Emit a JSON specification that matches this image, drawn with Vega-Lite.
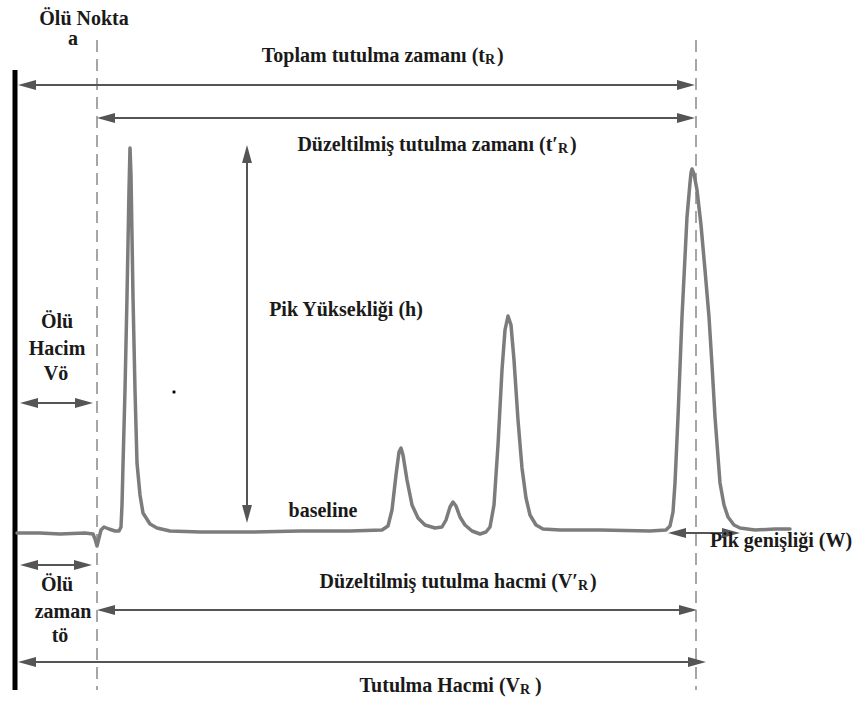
{
  "$schema": "https://vega.github.io/schema/vega-lite/v6.json",
  "width": 860,
  "height": 703,
  "padding": 0,
  "autosize": {"type": "fit", "contains": "padding"},
  "background": "white",
  "config": {"view": {"stroke": null}},
  "datasets": {
    "signal": [
      {"t": 17, "v": 533}, {"t": 40, "v": 533}, {"t": 60, "v": 534}, {"t": 85, "v": 533}, {"t": 93, "v": 534},
      {"t": 95, "v": 539}, {"t": 97, "v": 546}, {"t": 99, "v": 538}, {"t": 101, "v": 530}, {"t": 104, "v": 527},
      {"t": 109, "v": 529}, {"t": 115, "v": 531}, {"t": 119, "v": 531}, {"t": 121, "v": 527}, {"t": 122, "v": 505},
      {"t": 123, "v": 465}, {"t": 125, "v": 390}, {"t": 127, "v": 297}, {"t": 129, "v": 190}, {"t": 130, "v": 148},
      {"t": 131, "v": 175}, {"t": 133, "v": 297}, {"t": 135, "v": 390}, {"t": 137, "v": 463}, {"t": 140, "v": 495},
      {"t": 143, "v": 513}, {"t": 150, "v": 524}, {"t": 157, "v": 528}, {"t": 170, "v": 531}, {"t": 200, "v": 532},
      {"t": 250, "v": 532}, {"t": 300, "v": 531}, {"t": 350, "v": 531}, {"t": 382, "v": 530}, {"t": 388, "v": 526},
      {"t": 392, "v": 510}, {"t": 396, "v": 475}, {"t": 399, "v": 452}, {"t": 401, "v": 448}, {"t": 403, "v": 455},
      {"t": 407, "v": 480}, {"t": 412, "v": 505}, {"t": 418, "v": 518}, {"t": 425, "v": 525}, {"t": 435, "v": 528},
      {"t": 442, "v": 527}, {"t": 446, "v": 520}, {"t": 450, "v": 507}, {"t": 453, "v": 502}, {"t": 456, "v": 506},
      {"t": 460, "v": 517}, {"t": 465, "v": 525}, {"t": 472, "v": 531}, {"t": 480, "v": 534}, {"t": 486, "v": 532},
      {"t": 490, "v": 527}, {"t": 494, "v": 505}, {"t": 498, "v": 445}, {"t": 502, "v": 370}, {"t": 505, "v": 330},
      {"t": 508, "v": 316}, {"t": 511, "v": 325}, {"t": 514, "v": 360}, {"t": 518, "v": 420}, {"t": 522, "v": 468},
      {"t": 526, "v": 498}, {"t": 530, "v": 515}, {"t": 536, "v": 525}, {"t": 543, "v": 529}, {"t": 560, "v": 530},
      {"t": 600, "v": 530}, {"t": 650, "v": 531}, {"t": 666, "v": 530}, {"t": 670, "v": 526}, {"t": 673, "v": 512},
      {"t": 675, "v": 483}, {"t": 678, "v": 417}, {"t": 682, "v": 317}, {"t": 687, "v": 217}, {"t": 690, "v": 183},
      {"t": 691, "v": 173}, {"t": 692, "v": 169}, {"t": 694, "v": 174}, {"t": 697, "v": 190}, {"t": 701, "v": 225},
      {"t": 705, "v": 270}, {"t": 709, "v": 317}, {"t": 712, "v": 365}, {"t": 715, "v": 417},
      {"t": 720, "v": 483}, {"t": 724, "v": 505}, {"t": 728, "v": 517}, {"t": 734, "v": 525}, {"t": 740, "v": 528},
      {"t": 755, "v": 530}, {"t": 775, "v": 529}, {"t": 790, "v": 529}
    ],
    "guides": [
      {"t": 97, "v": 40, "v2": 690},
      {"t": 696, "v": 40, "v2": 690}
    ],
    "shafts": [
      {"t": 22, "t2": 690, "v": 85, "v2": 85},
      {"t": 100, "t2": 690, "v": 118, "v2": 118},
      {"t": 247, "t2": 247, "v": 150, "v2": 518},
      {"t": 24, "t2": 89, "v": 403, "v2": 403},
      {"t": 24, "t2": 88, "v": 565, "v2": 565},
      {"t": 100, "t2": 692, "v": 610, "v2": 610},
      {"t": 22, "t2": 701, "v": 662, "v2": 662},
      {"t": 672, "t2": 736, "v": 533, "v2": 533}
    ],
    "heads": [
      {"t": 18, "v": 85, "dir": "left"}, {"t": 695, "v": 85, "dir": "right"},
      {"t": 97, "v": 118, "dir": "left"}, {"t": 695, "v": 118, "dir": "right"},
      {"t": 247, "v": 145, "dir": "up"}, {"t": 247, "v": 523, "dir": "down"},
      {"t": 20, "v": 403, "dir": "left"}, {"t": 93, "v": 403, "dir": "right"},
      {"t": 20, "v": 565, "dir": "left"}, {"t": 92, "v": 565, "dir": "right"},
      {"t": 97, "v": 610, "dir": "left"}, {"t": 697, "v": 610, "dir": "right"},
      {"t": 18, "v": 662, "dir": "left"}, {"t": 706, "v": 662, "dir": "right"},
      {"t": 668, "v": 533, "dir": "left"}, {"t": 740, "v": 533, "dir": "right"}
    ],
    "labels": [
      {"t": 84, "v": 25, "label": "Ölü Nokta"},
      {"t": 73, "v": 45, "label": "a"},
      {"t": 57, "v": 328, "label": "Ölü"},
      {"t": 57, "v": 355, "label": "Hacim"},
      {"t": 56, "v": 380, "label": "Vö"},
      {"t": 57, "v": 591, "label": "Ölü"},
      {"t": 63, "v": 618, "label": "zaman"},
      {"t": 60, "v": 642, "label": "tö"},
      {"t": 346, "v": 316, "label": "Pik Yüksekliği (h)"},
      {"t": 323, "v": 517, "label": "baseline"},
      {"t": 781, "v": 547, "label": "Pik genişliği (W)"}
    ],
    "stems": [
      {"t": 485, "v": 62, "label": "Toplam tutulma zamanı (t"},
      {"t": 558, "v": 151, "label": "Düzeltilmiş tutulma zamanı (t′"},
      {"t": 578, "v": 588, "label": "Düzeltilmiş tutulma hacmi (V′"},
      {"t": 520, "v": 692, "label": "Tutulma Hacmi (V"}
    ],
    "subs": [
      {"t": 485, "v": 64, "label": "R"},
      {"t": 558, "v": 153, "label": "R"},
      {"t": 578, "v": 590, "label": "R"},
      {"t": 520, "v": 694, "label": "R"}
    ],
    "closers": [
      {"t": 497, "v": 62, "label": ")"},
      {"t": 570, "v": 151, "label": ")"},
      {"t": 590, "v": 588, "label": ")"},
      {"t": 535, "v": 692, "label": ")"}
    ],
    "frame": [{"t": 15, "v": 70, "v2": 690}],
    "speck": [{"t": 174, "v": 392}]
  },
  "encoding": {
    "x": {"field": "t", "type": "quantitative", "scale": {"domain": [0, 860], "nice": false, "zero": false}, "axis": null},
    "y": {"field": "v", "type": "quantitative", "scale": {"domain": [0, 703], "nice": false, "zero": false, "reverse": true}, "axis": null}
  },
  "layer": [
    {
      "data": {"name": "guides"},
      "mark": {"type": "rule", "color": "#a6a6a6", "strokeWidth": 2, "strokeDash": [12, 7]},
      "encoding": {"y2": {"field": "v2"}}
    },
    {
      "data": {"name": "frame"},
      "mark": {"type": "rule", "color": "#000000", "strokeWidth": 5},
      "encoding": {"y2": {"field": "v2"}}
    },
    {
      "data": {"name": "signal"},
      "mark": {"type": "line", "color": "#7c7c7c", "strokeWidth": 3.5, "strokeJoin": "round", "strokeCap": "round"},
      "encoding": {"order": {"field": "t", "type": "quantitative"}}
    },
    {
      "data": {"name": "shafts"},
      "mark": {"type": "rule", "color": "#555555", "strokeWidth": 2},
      "encoding": {"x2": {"field": "t2"}, "y2": {"field": "v2"}}
    },
    {
      "data": {"name": "heads"},
      "mark": {"type": "point", "filled": true, "opacity": 1, "color": "#555555", "size": 324},
      "encoding": {
        "shape": {
          "field": "dir", "type": "nominal", "legend": null,
          "scale": {
            "domain": ["left", "right", "up", "down"],
            "range": ["M0,0L2,-0.55L2,0.55Z", "M0,0L-2,-0.55L-2,0.55Z", "M0,0L-0.55,2L0.55,2Z", "M0,0L-0.55,-2L0.55,-2Z"]
          }
        }
      }
    },
    {
      "data": {"name": "speck"},
      "mark": {"type": "point", "filled": true, "opacity": 1, "color": "#000000", "size": 8, "shape": "square"}
    },
    {
      "data": {"name": "labels"},
      "mark": {"type": "text", "font": "Liberation Serif", "fontWeight": "bold", "fontSize": 20, "color": "#1a1a1a", "align": "center", "baseline": "alphabetic"},
      "encoding": {"text": {"field": "label"}}
    },
    {
      "data": {"name": "stems"},
      "mark": {"type": "text", "font": "Liberation Serif", "fontWeight": "bold", "fontSize": 20, "color": "#1a1a1a", "align": "right", "baseline": "alphabetic"},
      "encoding": {"text": {"field": "label"}}
    },
    {
      "data": {"name": "subs"},
      "mark": {"type": "text", "font": "Liberation Serif", "fontWeight": "bold", "fontSize": 14, "color": "#1a1a1a", "align": "left", "baseline": "alphabetic"},
      "encoding": {"text": {"field": "label"}}
    },
    {
      "data": {"name": "closers"},
      "mark": {"type": "text", "font": "Liberation Serif", "fontWeight": "bold", "fontSize": 20, "color": "#1a1a1a", "align": "left", "baseline": "alphabetic"},
      "encoding": {"text": {"field": "label"}}
    }
  ]
}
